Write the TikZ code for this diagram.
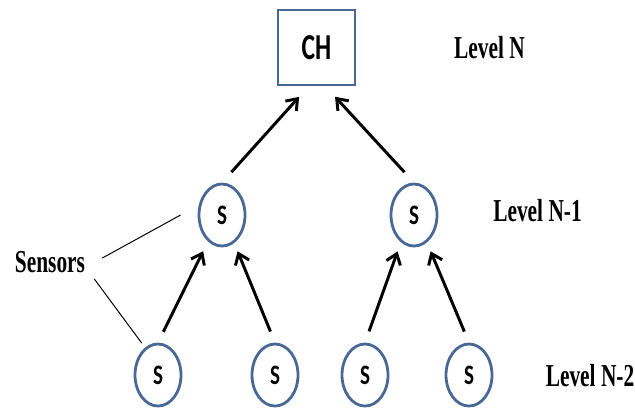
\documentclass[tikz,border=0pt]{standalone}
\usepackage{fontspec}
\setmainfont{Liberation Serif}
\newfontfamily\nodefont{Carlito}
\usetikzlibrary{arrows.meta,shapes.geometric}

\definecolor{nodeblue}{RGB}{74,104,150}
\newcommand{\squeezed}[1]{\scalebox{0.67}[1]{#1}}

\begin{document}
\begin{tikzpicture}[x=0.025cm, y=-0.025cm,
        sensor/.style={ellipse, draw=nodeblue, line width=2pt, minimum width=1.15cm, minimum height=1.55cm, inner sep=0pt, font=\nodefont\bfseries\fontsize{20}{22}\selectfont},
        head/.style={rectangle, draw=nodeblue, line width=2pt, minimum width=1.925cm, minimum height=1.875cm, inner sep=0pt, font=\nodefont\bfseries\fontsize{26}{28}\selectfont},
        levellabel/.style={inner sep=0pt, font=\bfseries\fontsize{22.7}{24}\selectfont},
        uparrow/.style={-{Straight Barb[length=7pt,width=10.5pt]}, line width=2.1pt}]
        \useasboundingbox (0, 0) rectangle (635, 410);

        % cluster head and sensors
        \node[head] (ch) at (316.5, 47.5) {\scalebox{0.7}[1]{CH}};
        \node[sensor] (m1) at (222, 215) {\scalebox{0.75}[1]{S}};
        \node[sensor] (m2) at (414, 215) {\scalebox{0.75}[1]{S}};
        \foreach \name/\x in {b1/158, b2/275, b3/365, b4/469}{
                \node[sensor] (\name) at (\x, 375) {\scalebox{0.75}[1]{S}};
            }

        % levels
        \node[levellabel] (lvn) at (489.5, 48) {\squeezed{Level N}};
        \node[levellabel] (lvn1) at (537.5, 211) {\squeezed{Level N-1}};
        \node[levellabel] (lvn2) at (590, 376) {\squeezed{Level N-2}};
        \node[levellabel] (sens) at (50, 262) {\squeezed{Sensors}};

        % arrows
        \draw[uparrow, shorten <=10pt, shorten >=10pt] (m1.north) to ([shift={(-8, 0)}]ch.south);
        \draw[uparrow, shorten <=10pt, shorten >=10pt] (m2.north) to ([shift={(9, 0)}]ch.south);
        \draw[uparrow, shorten <=8.5pt, shorten >=3pt] (b1.north) to ([shift={(-17, 0)}]m1.south);
        \draw[uparrow, shorten <=8.5pt, shorten >=3pt] (b2.north) to ([shift={(14, 0)}]m1.south);
        \draw[uparrow, shorten <=8.5pt, shorten >=3pt] (b3.north) to ([shift={(-15, 0)}]m2.south);
        \draw[uparrow, shorten <=8.5pt, shorten >=3pt] (b4.north) to ([shift={(15, 0)}]m2.south);

        \draw[line width=0.7pt] ([shift={(17, -4)}]sens.east) to ([shift={(-17, 0)}]m1.west);
        \draw[line width=0.7pt] ([shift={(9, 17)}]sens.east) to ([shift={(1, -9)}]b1.north west);
    \end{tikzpicture}
\end{document}
